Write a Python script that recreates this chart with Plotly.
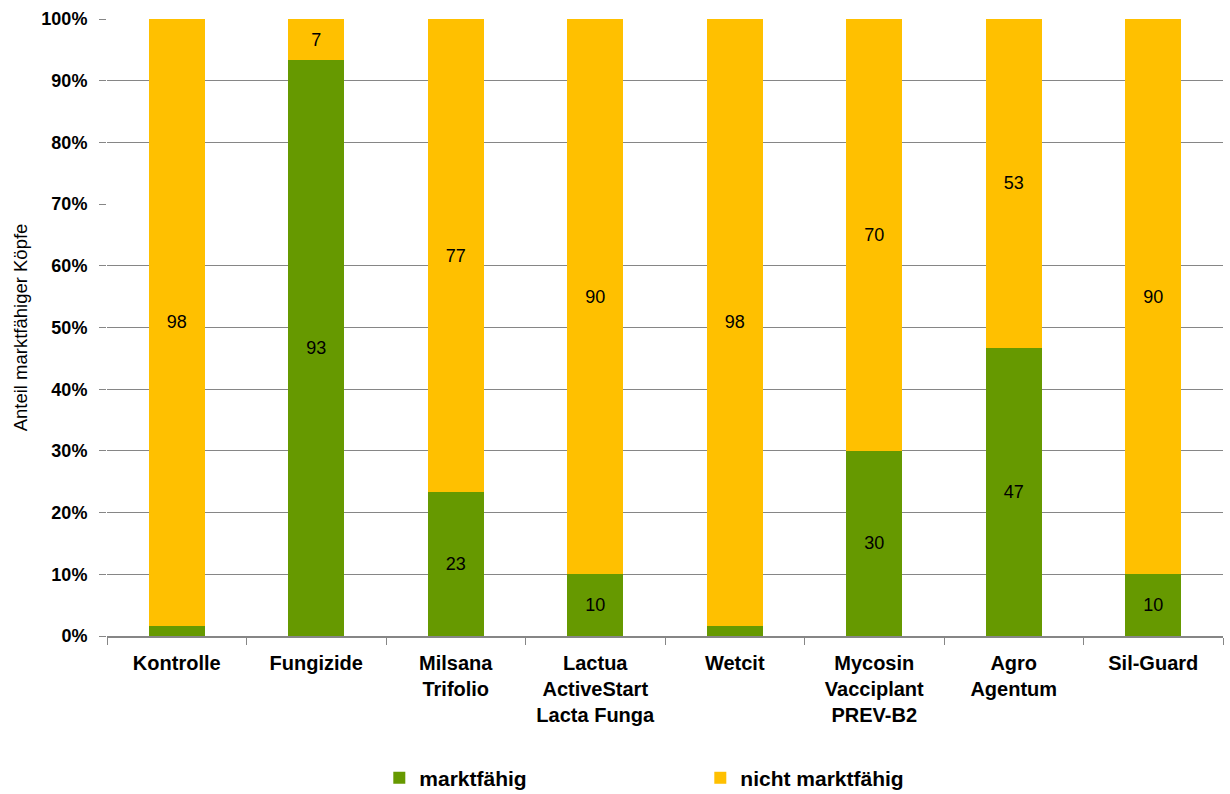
import plotly.graph_objects as go

categories = ["Kontrolle", "Fungizide", "Milsana<br>Trifolio", "Lactua<br>ActiveStart<br>Lacta Funga",
              "Wetcit", "Mycosin<br>Vacciplant<br>PREV-B2", "Agro<br>Agentum", "Sil-Guard"]
marktfaehig = [1.7, 93.3, 23.3, 10.0, 1.7, 30.0, 46.7, 10.0]
nicht_marktfaehig = [98.3, 6.7, 76.7, 90.0, 98.3, 70.0, 53.3, 90.0]
y_ticks = [0, 10, 20, 30, 40, 50, 60, 70, 80, 90, 100]
grid_vals = [10, 20, 30, 40, 50, 60, 80, 90, 100]

def labels(vals):
    return [f"{v:.0f}" if v >= 5 else "" for v in vals]

FONT = "Liberation Sans, Arial, sans-serif"
fig = go.Figure()
# invisible anchor trace so the labelled primary y axis is rendered
fig.add_trace(go.Scatter(x=categories, y=marktfaehig, mode="markers", marker_opacity=0,
                         showlegend=False, hoverinfo="skip", yaxis="y"))
fig.add_trace(go.Bar(x=categories, y=marktfaehig, name="marktfähig", marker_color="#669900",
                     marker_line_width=0, yaxis="y2",
                     text=labels(marktfaehig), textposition="inside", insidetextanchor="middle",
                     textfont=dict(size=18, color="black", family=FONT), textangle=0))
fig.add_trace(go.Bar(x=categories, y=nicht_marktfaehig, name="nicht marktfähig", marker_color="#FFC000",
                     marker_line_width=0, yaxis="y2",
                     text=labels(nicht_marktfaehig), textposition="inside", insidetextanchor="middle",
                     textfont=dict(size=18, color="black", family=FONT), textangle=0))

fig.update_layout(
    barmode="stack", bargap=0.6,
    width=1230, height=794,
    margin=dict(l=107, r=7, t=19, b=158, autoexpand=False),
    paper_bgcolor="white", plot_bgcolor="white",
    font=dict(family=FONT, color="black"),
    uniformtext=dict(mode=False),
    legend=dict(orientation="h", x=0.244, y=0.02, xanchor="left", yanchor="middle", yref="container",
                font=dict(size=21, color="black", family=FONT, weight="bold"),
                entrywidth=276, entrywidthmode="pixels",
                itemwidth=30, traceorder="normal"),
    showlegend=True,
    yaxis=dict(range=[0, 100], tickvals=y_ticks, ticktext=[f"{t}%" for t in y_ticks],
               ticks="outside", ticklen=7, tickcolor="#868686", showgrid=False, zeroline=False,
               ticklabelstandoff=8, automargin=False,
               tickfont=dict(size=18, color="black", weight="bold"),
               title=dict(text="Anteil marktfähiger Köpfe", font=dict(size=18.5, color="black"), standoff=8)),
    yaxis2=dict(range=[0, 100], overlaying="y", side="left", tickvals=grid_vals,
                showticklabels=False, ticks="", showgrid=True, gridcolor="#868686", gridwidth=1,
                zeroline=False, automargin=False),
)
fig.update_xaxes(tickson="boundaries", ticks="outside", ticklen=7, tickcolor="#868686",
                 showline=True, linecolor="#868686", linewidth=2, automargin=False,
                 ticklabelstandoff=8,
                 tickfont=dict(size=20, color="black", weight="bold"), showgrid=False)

fig.write_html("out.html")
